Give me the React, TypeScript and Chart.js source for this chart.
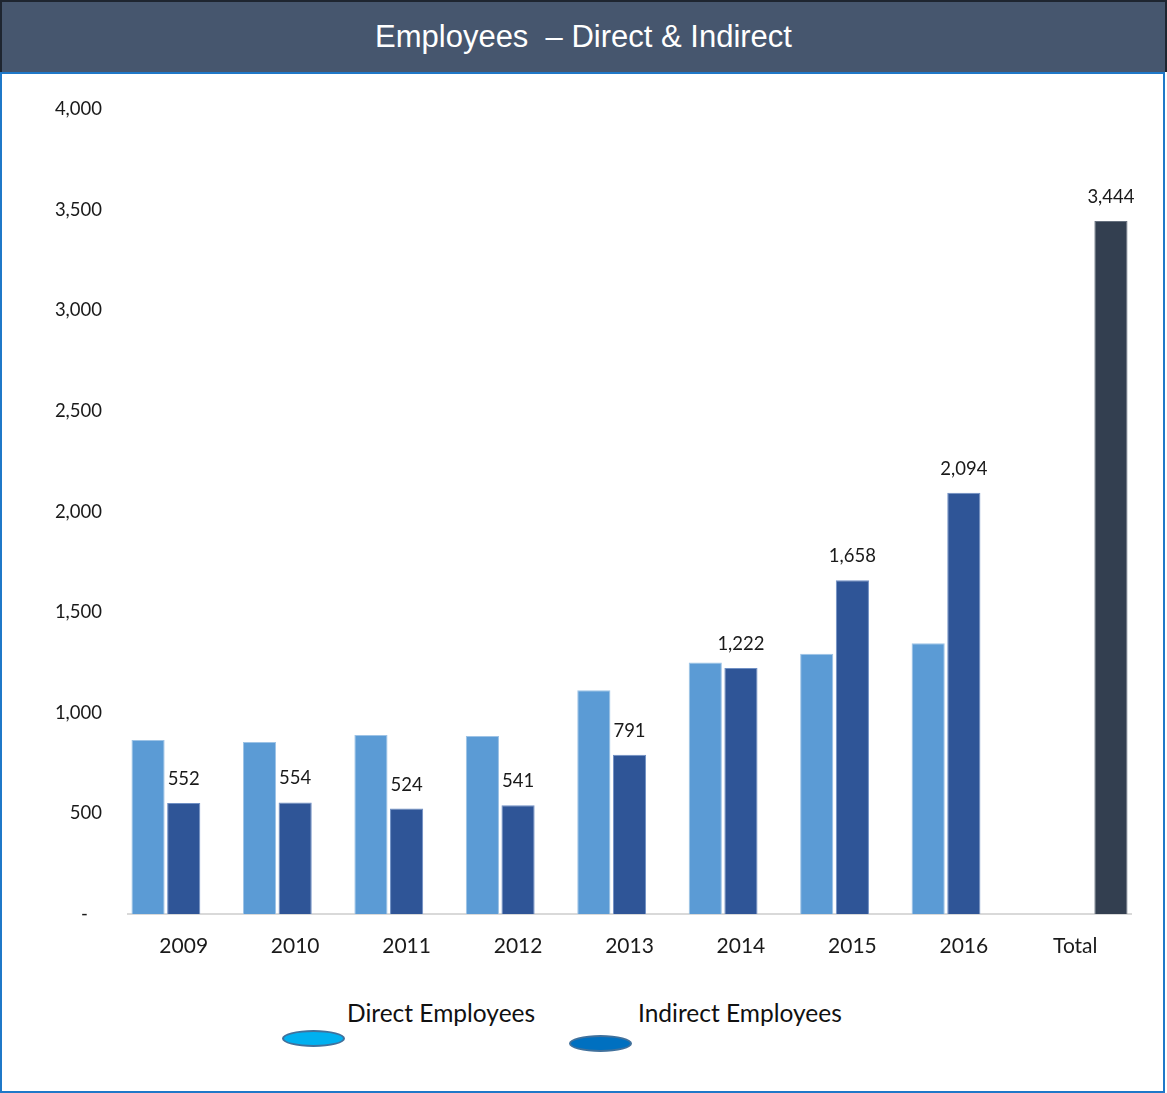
import React, { useEffect, useRef } from "react";
import { Chart, registerables } from "chart.js";

Chart.register(...registerables);

const categories = ["2009", "2010", "2011", "2012", "2013", "2014", "2015", "2016", "Total"];
const directEmployees = [865, 855, 890, 885, 1112, 1250, 1293, 1345, null];
const indirectEmployees = [552, 554, 524, 541, 791, 1222, 1658, 2094, null];
const totalEmployees = [null, null, null, null, null, null, null, null, 3444];
const yTicks = [0, 500, 1000, 1500, 2000, 2500, 3000, 3500, 4000];

const FONT = "Lato, 'Open Sans', sans-serif";

const valueLabels = {
  id: "valueLabels",
  afterDatasetsDraw(chart: any) {
    const ctx = chart.ctx;
    ctx.save();
    ctx.font = `18.5px ${FONT}`;
    ctx.fillStyle = "#1a1a1a";
    ctx.textAlign = "center";
    ctx.textBaseline = "middle";
    [1, 2].forEach((di) => {
      const meta = chart.getDatasetMeta(di);
      const data = chart.data.datasets[di].data;
      meta.data.forEach((el: any, i: number) => {
        const v = data[i];
        if (v == null) return;
        ctx.fillText(v.toLocaleString("en-US"), el.x, el.y - 24);
      });
    });
    ctx.restore();
  },
};

export default function App() {
  const ref = useRef<HTMLCanvasElement>(null);
  useEffect(() => {
    document.body.style.margin = "0";
    const chart = new Chart(ref.current!, {
      type: "bar",
      data: {
        labels: categories,
        datasets: [
          { label: "Direct Employees", data: directEmployees, backgroundColor: "#5b9bd5", borderColor: "#9dc3e6", borderWidth: { top: 1, left: 1, right: 1, bottom: 0 } as any },
          { label: "Indirect Employees", data: indirectEmployees, backgroundColor: "#2f5597", borderColor: "#6f8fc4", borderWidth: { top: 1, left: 1, right: 1, bottom: 0 } as any },
          { label: "Total", data: totalEmployees, backgroundColor: "#333f50", borderColor: "#66707e", borderWidth: { top: 1, left: 1, right: 1, bottom: 0 } as any },
        ],
      },
      options: {
        animation: false,
        responsive: false,
        maintainAspectRatio: false,
        layout: { padding: { left: 0, right: 29, top: 33, bottom: 0 } },
        datasets: { bar: { categoryPercentage: 0.96, barPercentage: 0.93 } },
        plugins: { legend: { display: false }, tooltip: { enabled: false } },
        scales: {
          x: {
            grid: { display: false, drawTicks: false },
            border: { display: true, color: "#d9d9d9", width: 2 },
            ticks: { color: "#1a1a1a", font: { family: FONT, size: 21 }, padding: 20 },
            afterFit: (s: any) => { s.height = 68; },
          },
          y: {
            min: 0,
            max: 4000,
            grid: { display: false, drawTicks: false },
            border: { display: false },
            afterBuildTicks: (s: any) => { s.ticks = yTicks.map((v) => ({ value: v })); },
            ticks: {
              color: "#1a1a1a",
              font: { family: FONT, size: 18.5 },
              padding: 26,
              callback: (v: any) => (Number(v) === 0 ? "-   " : Number(v).toLocaleString("en-US")),
            },
            afterFit: (s: any) => { s.width = 128; },
          },
        },
      },
      plugins: [valueLabels],
    });
    return () => chart.destroy();
  }, []);

  return (
    <div style={{ position: "absolute", left: 0, top: 0, width: 1167, height: 1093, background: "#fff", fontFamily: FONT }}>
      <div style={{ position: "absolute", left: 0, top: 0, width: 1163, height: 70, background: "#46566e", border: "2px solid #1e2530", borderBottom: "none", display: "flex", alignItems: "center", justifyContent: "center" }}>
        <span style={{ color: "#fff", fontFamily: "'Liberation Sans', Arial, sans-serif", fontSize: 31, whiteSpace: "pre" }}>Employees  – Direct &amp; Indirect</span>
      </div>
      <div style={{ position: "absolute", left: 0, top: 72, width: 1161, height: 1017, border: "2px solid #1f78c8" }} />
      <canvas ref={ref} width={1160} height={910} style={{ position: "absolute", left: 0, top: 72, width: 1160, height: 910 }} />
      <div style={{ position: "absolute", left: 347, top: 998, fontSize: 24.5, color: "#111", whiteSpace: "nowrap" }}>Direct Employees</div>
      <div style={{ position: "absolute", left: 282, top: 1030, width: 59, height: 13, borderRadius: "50%", background: "#00b0f0", border: "2px solid #41719c" }} />
      <div style={{ position: "absolute", left: 638, top: 998, fontSize: 24.5, color: "#111", whiteSpace: "nowrap" }}>Indirect Employees</div>
      <div style={{ position: "absolute", left: 569, top: 1035, width: 59, height: 13, borderRadius: "50%", background: "#0070c0", border: "2px solid #41719c" }} />
    </div>
  );
}
